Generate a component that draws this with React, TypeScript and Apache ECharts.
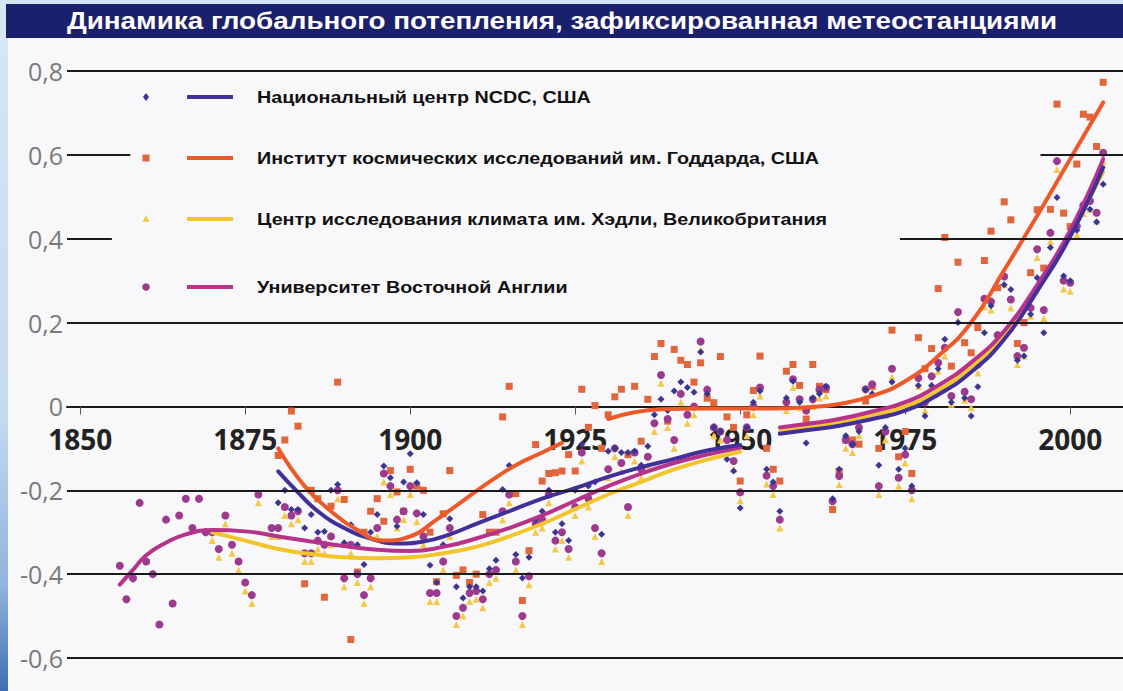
import React, { useEffect, useRef } from "react";
import * as echarts from "echarts";

// ---------- text ----------
const titleText = "Динамика глобального потепления, зафиксированная метеостанциями";
const seriesNames = [
  "Национальный центр NCDC, США",
  "Институт космических исследований им. Годдарда, США",
  "Центр исследования климата им. Хэдли, Великобритания",
  "Университет Восточной Англии",
];
const xTickYears = [1850, 1875, 1900, 1925, 1950, 1975, 2000];

// ---------- scatter data: [year, anomaly] ----------
const ueaPoints: [number, number][] = [
  [1856,-0.38],[1857,-0.46],[1858,-0.41],[1859,-0.23],[1860,-0.37],[1861,-0.40],[1862,-0.52],[1863,-0.27],
  [1864,-0.47],[1865,-0.26],[1866,-0.22],[1867,-0.29],[1868,-0.22],[1869,-0.30],[1870,-0.30],[1871,-0.34],
  [1872,-0.26],[1873,-0.33],[1874,-0.37],[1875,-0.42],[1876,-0.45],[1877,-0.21],[1879,-0.29],[1880,-0.29],
  [1881,-0.24],[1882,-0.26],[1883,-0.25],[1884,-0.35],[1885,-0.35],[1886,-0.32],[1887,-0.33],[1888,-0.31],
  [1889,-0.20],[1890,-0.41],[1891,-0.33],[1892,-0.40],[1893,-0.45],[1894,-0.41],[1895,-0.29],[1896,-0.16],
  [1897,-0.19],[1898,-0.27],[1899,-0.25],[1900,-0.19],[1901,-0.255],[1902,-0.31],[1903,-0.445],[1904,-0.445],
  [1905,-0.37],[1906,-0.29],[1907,-0.50],[1908,-0.48],[1909,-0.445],[1910,-0.44],[1911,-0.46],[1912,-0.40],
  [1913,-0.39],[1914,-0.25],[1915,-0.21],[1916,-0.37],[1917,-0.50],[1918,-0.405],[1919,-0.28],[1920,-0.27],
  [1921,-0.21],[1922,-0.32],[1923,-0.30],[1924,-0.34],[1925,-0.24],[1926,-0.11],[1927,-0.22],[1928,-0.29],
  [1929,-0.35],[1930,-0.15],[1931,-0.10],[1932,-0.135],[1933,-0.24],[1934,-0.11],[1935,-0.15],[1936,-0.12],
  [1937,-0.04],[1938,0.075],[1939,-0.03],[1940,-0.08],[1941,0.03],[1942,-0.02],[1943,0.0],[1944,0.155],
  [1945,0.04],[1946,-0.05],[1947,-0.06],[1948,-0.08],[1949,-0.13],[1950,-0.205],[1951,-0.05],[1952,0.0],
  [1953,0.045],[1954,-0.165],[1955,-0.19],[1956,-0.27],[1957,0.01],[1958,0.065],[1959,0.017],[1960,-0.01],
  [1961,0.017],[1962,0.04],[1963,0.045],[1964,-0.226],[1965,-0.166],[1966,-0.08],[1967,-0.09],[1968,-0.05],
  [1969,0.041],[1970,0.053],[1971,-0.19],[1972,-0.06],[1973,0.09],[1974,-0.17],[1975,-0.115],[1976,-0.20],
  [1977,0.068],[1978,0.01],[1979,0.072],[1980,0.104],[1981,0.14],[1982,0.025],[1983,0.225],[1984,0.035],
  [1985,0.017],[1986,0.10],[1987,0.257],[1988,0.25],[1989,0.17],[1990,0.31],[1991,0.255],[1992,0.12],
  [1993,0.14],[1994,0.235],[1995,0.375],[1996,0.23],[1997,0.414],[1998,0.585],[1999,0.30],[2000,0.295],
  [2001,0.43],[2002,0.48],[2003,0.49],[2004,0.462],[2005,0.605],
];

const hadleyPoints: [number, number][] = [
  [1870,-0.32],[1871,-0.36],[1872,-0.28],[1873,-0.35],[1874,-0.39],[1875,-0.44],[1876,-0.47],[1877,-0.23],
  [1879,-0.31],[1880,-0.31],[1881,-0.26],[1882,-0.28],[1883,-0.27],[1884,-0.37],[1885,-0.37],[1886,-0.34],
  [1887,-0.35],[1888,-0.33],[1889,-0.22],[1890,-0.43],[1891,-0.35],[1892,-0.42],[1893,-0.47],[1894,-0.43],
  [1895,-0.31],[1896,-0.18],[1897,-0.21],[1898,-0.29],[1899,-0.27],[1900,-0.21],[1901,-0.275],[1902,-0.33],
  [1903,-0.465],[1904,-0.465],[1905,-0.39],[1906,-0.31],[1907,-0.52],[1908,-0.50],[1909,-0.465],[1910,-0.46],
  [1911,-0.48],[1912,-0.42],[1913,-0.41],[1914,-0.27],[1915,-0.23],[1916,-0.39],[1917,-0.52],[1918,-0.425],
  [1919,-0.30],[1920,-0.29],[1921,-0.23],[1922,-0.34],[1923,-0.32],[1924,-0.36],[1925,-0.26],[1926,-0.13],
  [1927,-0.24],[1928,-0.31],[1929,-0.37],[1930,-0.17],[1931,-0.12],[1932,-0.155],[1933,-0.26],[1934,-0.13],
  [1935,-0.17],[1936,-0.14],[1937,-0.06],[1938,0.055],[1939,-0.05],[1940,-0.10],[1941,0.01],[1942,-0.04],
  [1943,-0.02],[1944,0.135],[1945,0.02],[1946,-0.07],[1947,-0.08],[1948,-0.10],[1949,-0.15],[1950,-0.225],
  [1951,-0.07],[1952,-0.02],[1953,0.025],[1954,-0.185],[1955,-0.21],[1956,-0.29],[1957,-0.01],[1958,0.045],
  [1959,-0.003],[1960,-0.03],[1961,0.0],[1962,0.02],[1963,0.025],[1964,-0.246],[1965,-0.186],[1966,-0.10],
  [1967,-0.11],[1968,-0.07],[1969,0.021],[1970,0.033],[1971,-0.21],[1972,-0.08],[1973,0.07],[1974,-0.19],
  [1975,-0.135],[1976,-0.22],[1977,0.048],[1978,-0.01],[1979,0.052],[1980,0.084],[1981,0.12],[1982,0.005],
  [1983,0.205],[1984,0.015],[1985,-0.003],[1986,0.08],[1987,0.237],[1988,0.23],[1989,0.15],[1990,0.29],
  [1991,0.235],[1992,0.10],[1993,0.12],[1994,0.215],[1995,0.355],[1996,0.21],[1997,0.394],[1998,0.565],
  [1999,0.28],[2000,0.275],[2001,0.41],[2002,0.46],[2003,0.47],[2004,0.442],[2005,0.585],
];

const ncdcPoints: [number, number][] = [
  [1880,-0.23],[1881,-0.20],[1882,-0.246],[1883,-0.246],[1884,-0.29],[1885,-0.258],[1886,-0.30],[1887,-0.298],
  [1888,-0.20],[1889,-0.186],[1890,-0.325],[1891,-0.282],[1892,-0.33],[1893,-0.377],[1894,-0.30],[1895,-0.258],
  [1896,-0.142],[1897,-0.17],[1898,-0.286],[1899,-0.18],[1900,-0.113],[1901,-0.182],[1902,-0.258],[1903,-0.379],
  [1904,-0.42],[1905,-0.33],[1906,-0.268],[1907,-0.43],[1908,-0.457],[1909,-0.43],[1910,-0.43],[1911,-0.44],
  [1912,-0.387],[1913,-0.367],[1914,-0.198],[1915,-0.141],[1916,-0.353],[1917,-0.409],[1918,-0.36],[1919,-0.27],
  [1920,-0.25],[1921,-0.20],[1922,-0.30],[1923,-0.28],[1924,-0.32],[1925,-0.20],[1926,-0.09],[1927,-0.19],
  [1928,-0.18],[1929,-0.305],[1930,-0.107],[1931,-0.10],[1932,-0.11],[1933,-0.11],[1934,-0.107],[1935,-0.14],
  [1936,-0.095],[1937,-0.02],[1938,0.017],[1939,-0.01],[1940,0.037],[1941,0.058],[1942,0.045],[1943,0.034],
  [1944,0.13],[1945,0.03],[1946,-0.05],[1947,-0.06],[1948,-0.126],[1949,-0.154],[1950,-0.242],[1951,-0.05],
  [1952,0.01],[1953,0.037],[1954,-0.15],[1955,-0.18],[1956,-0.25],[1957,0.02],[1958,0.06],[1959,0.01],
  [1960,-0.087],[1961,0.02],[1962,0.03],[1963,0.048],[1964,-0.22],[1965,-0.15],[1966,-0.07],[1967,-0.09],
  [1968,-0.06],[1969,0.04],[1970,0.03],[1971,-0.14],[1972,-0.05],[1973,0.058],[1974,-0.15],[1975,-0.10],
  [1976,-0.19],[1977,0.05],[1978,-0.023],[1979,0.05],[1980,0.09],[1981,0.16],[1982,0.01],[1983,0.20],
  [1984,0.02],[1985,-0.023],[1986,0.047],[1987,0.176],[1988,0.24],[1989,0.15],[1990,0.29],[1991,0.279],
  [1992,0.11],[1993,0.12],[1994,0.22],[1995,0.307],[1996,0.176],[1997,0.379],[1998,0.498],[1999,0.311],
  [2000,0.30],[2001,0.42],[2002,0.47],[2003,0.47],[2004,0.44],[2005,0.53],
];

const gissPoints: [number, number][] = [
  [1880,-0.117],[1881,-0.08],[1882,-0.011],[1883,-0.047],[1884,-0.423],[1885,-0.20],[1886,-0.22],[1887,-0.455],
  [1888,-0.238],[1889,0.058],[1890,-0.222],[1891,-0.556],[1892,-0.395],[1893,-0.30],[1894,-0.25],[1895,-0.22],
  [1896,-0.274],[1897,-0.153],[1898,-0.204],[1899,-0.25],[1900,-0.15],[1901,-0.19],[1902,-0.20],[1903,-0.30],
  [1904,-0.418],[1905,-0.256],[1906,-0.153],[1907,-0.403],[1908,-0.39],[1909,-0.42],[1910,-0.40],[1911,-0.258],
  [1912,-0.30],[1913,-0.30],[1914,-0.025],[1915,0.048],[1916,-0.208],[1917,-0.463],[1918,-0.344],[1919,-0.091],
  [1920,-0.178],[1921,-0.16],[1922,-0.158],[1923,-0.154],[1924,-0.115],[1925,-0.154],[1926,0.041],[1927,-0.05],
  [1928,0.002],[1929,-0.10],[1930,-0.02],[1931,0.023],[1932,0.041],[1933,-0.115],[1934,0.048],[1935,-0.083],
  [1936,0.017],[1937,0.119],[1938,0.15],[1939,-0.035],[1940,0.136],[1941,0.11],[1942,0.10],[1943,0.058],
  [1944,0.104],[1945,0.02],[1946,0.009],[1947,0.119],[1948,-0.025],[1949,-0.05],[1950,-0.178],[1951,-0.02],
  [1952,0.038],[1953,0.12],[1954,-0.10],[1955,-0.15],[1956,-0.178],[1957,0.084],[1958,0.10],[1959,0.05],
  [1960,-0.03],[1961,0.10],[1962,0.048],[1963,0.04],[1964,-0.246],[1965,-0.155],[1966,-0.08],[1967,-0.08],
  [1968,-0.09],[1969,0.013],[1970,0.048],[1971,-0.10],[1972,-0.02],[1973,0.182],[1974,-0.12],[1975,-0.06],
  [1976,-0.16],[1977,0.164],[1978,0.09],[1979,0.138],[1980,0.281],[1981,0.403],[1982,0.096],[1983,0.344],
  [1984,0.152],[1985,0.128],[1986,0.188],[1987,0.348],[1988,0.418],[1989,0.283],[1990,0.488],[1991,0.445],
  [1992,0.15],[1993,0.20],[1994,0.319],[1995,0.469],[1996,0.33],[1997,0.47],[1998,0.721],[1999,0.461],
  [2000,0.429],[2001,0.578],[2002,0.697],[2003,0.69],[2004,0.62],[2005,0.773],
];

// ---------- smoothed trend curves (two pieces each) ----------
const ncdcTrend1: [number, number][] = [
  [1880,-0.155],[1883,-0.205],[1886,-0.25],[1890,-0.29],[1894,-0.315],[1898,-0.327],[1902,-0.322],[1906,-0.305],
  [1910,-0.28],[1915,-0.25],[1920,-0.22],[1925,-0.195],[1930,-0.168],[1935,-0.145],[1940,-0.125],[1945,-0.105],[1950,-0.092],
];
const ncdcTrend2: [number, number][] = [
  [1956,-0.065],[1960,-0.057],[1965,-0.046],[1970,-0.03],[1975,-0.01],[1980,0.028],[1985,0.082],[1990,0.16],
  [1995,0.275],[2000,0.405],[2005,0.57],
];
const gissTrend1: [number, number][] = [
  [1880,-0.10],[1884,-0.19],[1888,-0.25],[1892,-0.295],[1896,-0.32],[1900,-0.31],[1904,-0.27],[1908,-0.225],
  [1912,-0.18],[1916,-0.14],[1920,-0.11],[1923,-0.087],
];
const gissTrend2: [number, number][] = [
  [1930,-0.03],[1934,-0.014],[1938,-0.007],[1945,-0.005],[1955,-0.005],[1960,-0.002],[1965,0.006],[1970,0.025],
  [1975,0.06],[1980,0.12],[1985,0.2],[1990,0.325],[1995,0.455],[2000,0.59],[2005,0.725],
];
const hadleyTrend1: [number, number][] = [
  [1870,-0.30],[1875,-0.32],[1880,-0.34],[1885,-0.352],[1890,-0.36],[1895,-0.362],[1900,-0.36],[1905,-0.35],
  [1910,-0.335],[1915,-0.31],[1920,-0.28],[1925,-0.245],[1930,-0.21],[1935,-0.18],[1940,-0.15],[1945,-0.127],[1950,-0.108],
];
const hadleyTrend2: [number, number][] = [
  [1956,-0.06],[1960,-0.05],[1965,-0.037],[1970,-0.02],[1975,0.0],[1980,0.038],[1985,0.095],[1990,0.17],
  [1995,0.28],[2000,0.41],[2005,0.56],
];
const ueaTrend1: [number, number][] = [
  [1856,-0.425],[1858,-0.39],[1860,-0.355],[1863,-0.325],[1866,-0.305],[1870,-0.295],[1875,-0.298],[1880,-0.31],
  [1885,-0.322],[1890,-0.333],[1895,-0.342],[1900,-0.345],[1905,-0.335],[1910,-0.315],[1915,-0.29],[1920,-0.26],
  [1925,-0.225],[1930,-0.19],[1935,-0.16],[1940,-0.135],[1945,-0.115],[1950,-0.098],
];
const ueaTrend2: [number, number][] = [
  [1956,-0.05],[1960,-0.042],[1965,-0.03],[1970,-0.012],[1975,0.01],[1980,0.05],[1985,0.105],[1990,0.18],
  [1995,0.29],[2000,0.42],[2005,0.59],
];

// ---------- gridlines (value, from-year, to-year) ----------
const gridSegments: [number, number, number][] = [
  [0.8, 1848, 2008], [0.6, 1848, 1857.6], [0.6, 1995.5, 2008], [0.4, 1848, 1854.8], [0.4, 1974.2, 2008],
  [0.2, 1848, 2008], [-0.2, 1848, 2008], [-0.4, 1848, 2008], [-0.6, 1848, 2008],
];

const COL = {
  ncdcMark: "#3b3790", ncdcLine: "#41309a",
  gissMark: "#e0663c", gissLine: "#ec5a2a",
  hadMark: "#f2c94a", hadLine: "#f3c52c",
  ueaMark: "#9c3a8e", ueaLine: "#b7338b",
};

export default function App() {
  const ref = useRef<HTMLDivElement>(null);
  useEffect(() => {
    const chart = echarts.init(ref.current!, null, { renderer: "svg" });
    const narrow = "'Liberation Sans Narrow', 'Liberation Sans', Arial, sans-serif";
    const lineSeries = (data: [number, number][], color: string, z: number) => ({
      type: "line", data, smooth: true, showSymbol: false, symbol: "none", z,
      lineStyle: { color, width: 4, cap: "round" }, silent: true,
    });
    const scatter = (data: [number, number][], symbol: string, size: number, color: string, z: number) => ({
      type: "scatter", data, symbol, symbolSize: size, z, itemStyle: { color, opacity: 1 }, silent: true,
    });
    const legendRows = [97, 158, 219, 287];
    const legendLineCols = [COL.ncdcLine, COL.gissLine, COL.hadLine, COL.ueaLine];
    const mk = 146;
    const legendMarkers: any[] = [
      { type: "polygon", shape: { points: [[mk, legendRows[0] - 4], [mk + 3, legendRows[0]], [mk, legendRows[0] + 4], [mk - 3, legendRows[0]]] }, style: { fill: COL.ncdcMark } },
      { type: "rect", shape: { x: mk - 3.5, y: legendRows[1] - 3.5, width: 7, height: 7 }, style: { fill: COL.gissMark } },
      { type: "polygon", shape: { points: [[mk, legendRows[2] - 4], [mk + 3.5, legendRows[2] + 3], [mk - 3.5, legendRows[2] + 3]] }, style: { fill: COL.hadMark } },
      { type: "circle", shape: { cx: mk, cy: legendRows[3], r: 3.8 }, style: { fill: COL.ueaMark } },
    ];
    const legendGraphics: any[] = [];
    seriesNames.forEach((name, i) => {
      legendGraphics.push({ type: "rect", shape: { x: 187, y: legendRows[i] - 2, width: 46, height: 4 }, style: { fill: legendLineCols[i] } });
      legendGraphics.push({
        type: "text", x: 257, y: legendRows[i], scaleX: 1.16,
        style: { text: name, fill: "#111", font: `bold 17px ${narrow}`, textAlign: "left", textVerticalAlign: "middle" },
      });
    });

    const option: any = {
      animation: false,
      backgroundColor: "#f8f7f9",
      grid: { left: 67, right: 0, top: 71, bottom: 33, containLabel: false },
      xAxis: {
        type: "value", min: 1848, max: 2008, offset: -251.5,
        axisLine: { show: true, onZero: false, lineStyle: { color: "#1a1a1a", width: 2 } },
        axisTick: { show: true, customValues: xTickYears, length: 8, inside: false, lineStyle: { color: "#555", width: 1 } },
        axisLabel: {
          customValues: xTickYears, color: "#222", fontFamily: "'Open Sans', sans-serif", fontWeight: "bold",
          fontSize: 28, lineHeight: 22, margin: 16, padding: [5, 0, 0, 0],
          formatter: (v: number) => String(Math.round(v)),
        },
        splitLine: { show: false },
      },
      yAxis: {
        type: "value", min: -0.6, max: 0.8, interval: 0.2,
        axisLine: { show: false }, axisTick: { show: false }, splitLine: { show: false },
        axisLabel: {
          color: "#7a7a7a", fontFamily: "'Open Sans', sans-serif", fontSize: 25, lineHeight: 18, margin: 4,
          formatter: (v: number) => (Math.abs(v) < 1e-9 ? "0" : v.toFixed(1).replace(".", ",")),
        },
      },
      graphic: [
        { type: "rect", shape: { x: 0, y: 0, width: 1123, height: 4 }, style: { fill: "#d4e4f2" }, z: 10 },
        {
          type: "rect", shape: { x: 0, y: 0, width: 8, height: 691 }, z: 10,
          style: {
            fill: new echarts.graphic.LinearGradient(0, 0, 0, 1, [
              { offset: 0, color: "#d7e7f4" }, { offset: 0.6, color: "#c4daf0" }, { offset: 0.85, color: "#8fb2de" }, { offset: 1, color: "#3d6fb3" },
            ]),
          },
        },
        { type: "rect", shape: { x: 6, y: 4, width: 1117, height: 34 }, style: { fill: "#1b206c" }, z: 10 },
        {
          type: "text", x: 562, y: 21, scaleX: 1.21, z: 11,
          style: { text: titleText, fill: "#ffffff", font: `bold 23px ${narrow}`, textAlign: "center", textVerticalAlign: "middle" },
        },
        ...legendMarkers.map((m) => ({ ...m, z: 12 })),
        ...legendGraphics.map((m) => ({ ...m, z: 12 })),
      ],
      series: [
        {
          type: "scatter", data: [], z: 1, silent: true,
          markLine: {
            silent: true, symbol: "none", label: { show: false },
            lineStyle: { color: "#1a1a1a", width: 2, type: "solid" },
            data: gridSegments.map(([v, a, b]) => [{ coord: [a, v] }, { coord: [b, v] }]),
          },
        },
        scatter(hadleyPoints, "triangle", 7, COL.hadMark, 3),
        scatter(gissPoints, "rect", 7, COL.gissMark, 3),
        scatter(ueaPoints, "circle", 8, COL.ueaMark, 3),
        scatter(ncdcPoints, "diamond", 7, COL.ncdcMark, 3),
        lineSeries(hadleyTrend1, COL.hadLine, 4),
        lineSeries(hadleyTrend2, COL.hadLine, 4),
        lineSeries(ueaTrend1, COL.ueaLine, 4),
        lineSeries(ueaTrend2, COL.ueaLine, 4),
        lineSeries(ncdcTrend1, COL.ncdcLine, 4),
        lineSeries(ncdcTrend2, COL.ncdcLine, 4),
        lineSeries(gissTrend1, COL.gissLine, 4),
        lineSeries(gissTrend2, COL.gissLine, 4),
      ],
    };
    chart.setOption(option);
    return () => chart.dispose();
  }, []);
  return <div ref={ref} style={{ position: "absolute", left: 0, top: 0, width: 1123, height: 691 }} />;
}
